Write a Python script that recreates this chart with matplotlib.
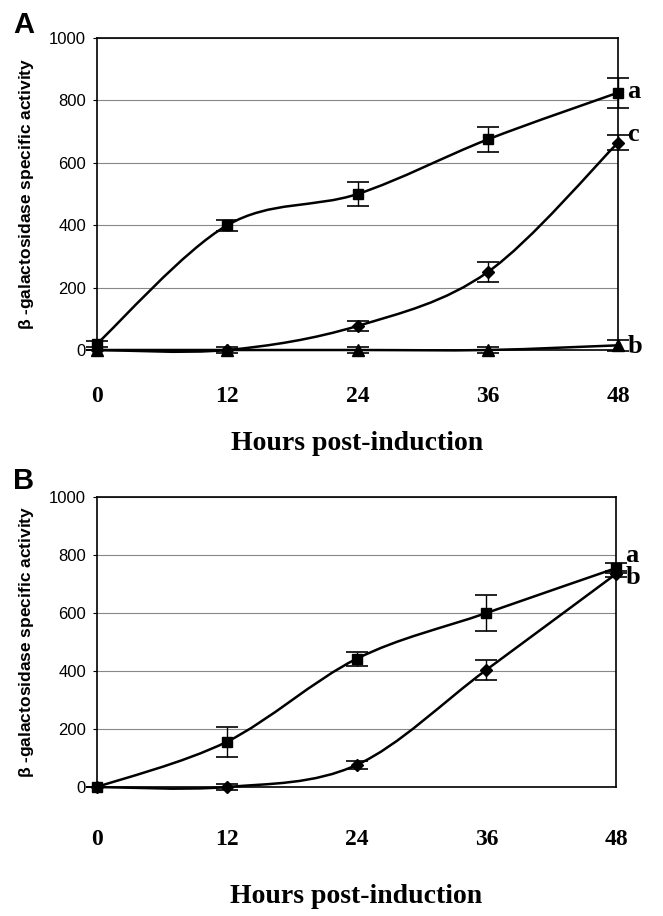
import matplotlib.pyplot as plt
from matplotlib.path import Path
from matplotlib.patches import PathPatch

hours = [0, 12, 24, 36, 48]
y_ticks = [0, 200, 400, 600, 800, 1000]

# panel A
a_sq = [20, 400, 500, 675, 825]
a_sq_err = [10, 18, 40, 40, 48]
a_tri = [0, 0, 0, 0, 15]
a_tri_err = [0, 10, 10, 10, 17]
a_dia = [0, 0, 77, 250, 665]
a_dia_err = [0, 0, 16, 32, 25]

# panel B
b_sq = [0, 156, 442, 600, 755]
b_sq_err = [0, 52, 24, 61, 17]
b_dia = [0, 0, 76, 404, 735]
b_dia_err = [0, 10, 13, 34, 10]

plt.rcParams['font.family'] = ['Liberation Sans', 'DejaVu Sans']


def smooth_line(ax, xs, ys):
    # Excel style smoothed line (Catmull-Rom as cubic Bezier)
    n = len(xs)
    verts = [(xs[0], ys[0])]
    codes = [Path.MOVETO]
    for i in range(n - 1):
        x0, y0 = xs[max(i - 1, 0)], ys[max(i - 1, 0)]
        x1, y1 = xs[i], ys[i]
        x2, y2 = xs[i + 1], ys[i + 1]
        x3, y3 = xs[min(i + 2, n - 1)], ys[min(i + 2, n - 1)]
        verts += [(x1 + (x2 - x0) / 6, y1 + (y2 - y0) / 6),
                  (x2 - (x3 - x1) / 6, y2 - (y3 - y1) / 6),
                  (x2, y2)]
        codes += [Path.CURVE4] * 3
    ax.add_patch(PathPatch(Path(verts, codes), facecolor='none',
                           edgecolor='black', lw=1.8, zorder=3))


def series(ax, ys, err, marker, ms):
    smooth_line(ax, hours, ys)
    ax.errorbar(hours, ys, yerr=err, fmt=marker, color='black', ms=ms,
                ecolor='black', elinewidth=1, capsize=8, capthick=1.2, zorder=4)


def style(ax, pad):
    ax.set_xlim(0, 48)
    ax.set_ylim(0, 1000)
    ax.set_yticks(y_ticks)
    ax.set_xticks(hours)
    ax.set_xticklabels([str(h) for h in hours], family='Liberation Serif',
                       fontweight='bold', fontsize=17)
    ax.tick_params(axis='x', length=0, pad=pad)
    ax.tick_params(axis='y', length=3, pad=5, labelsize=12)
    ax.grid(axis='y', color='#888888', lw=0.8)
    ax.set_axisbelow(True)
    for s in ax.spines.values():
        s.set_linewidth(1.2)
    ax.set_ylabel(r'$\mathregular{\beta}$ -galactosidase specific activity',
                  fontsize=12.5, fontweight='bold')
    ax.yaxis.set_label_coords(-0.117, 0.5)
    ax.set_xlabel('Hours post-induction', family='Liberation Serif',
                  fontweight='bold', fontsize=20)


fig = plt.figure(figsize=(6.63, 9.16), dpi=100)

ax1 = fig.add_axes([0.1463, 0.6179, 0.786, 0.3406])
series(ax1, a_tri, a_tri_err, '^', 9)
series(ax1, a_dia, a_dia_err, 'D', 6.5)
series(ax1, a_sq, a_sq_err, 's', 6.5)
style(ax1, 26)
ax1.xaxis.labelpad = 17
for txt, yv in [('a', 830), ('c', 690), ('b', 12)]:
    ax1.text(1.018, yv, txt, transform=ax1.get_yaxis_transform(),
             family='Liberation Serif', fontweight='bold', fontsize=19,
             va='center', ha='left', clip_on=False)
fig.text(0.02, 0.964, 'A', fontsize=21, fontweight='bold')

ax2 = fig.add_axes([0.1463, 0.1408, 0.783, 0.3166])
series(ax2, b_dia, b_dia_err, 'D', 6.5)
series(ax2, b_sq, b_sq_err, 's', 6.5)
style(ax2, 30)
ax2.xaxis.labelpad = 25
for txt, yv in [('a', 800), ('b', 722)]:
    ax2.text(1.018, yv, txt, transform=ax2.get_yaxis_transform(),
             family='Liberation Serif', fontweight='bold', fontsize=19,
             va='center', ha='left', clip_on=False)
fig.text(0.02, 0.466, 'B', fontsize=21, fontweight='bold')

for ax in (ax1, ax2):
    for c in ax.get_children():
        try:
            c.set_clip_on(False)
        except Exception:
            pass

fig.savefig('out.png', dpi=100)
